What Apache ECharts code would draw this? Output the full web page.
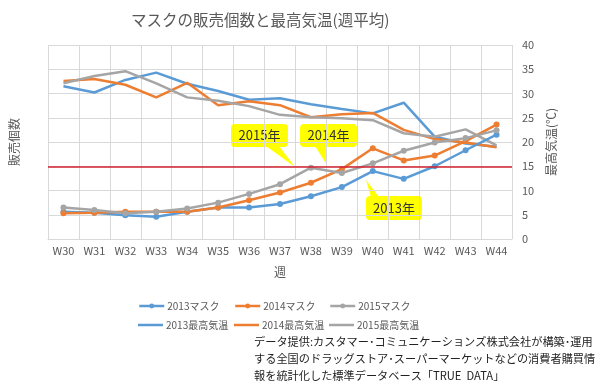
<!DOCTYPE html>
<html><head><meta charset="utf-8">
<script src="https://cdn.jsdelivr.net/npm/echarts@6/dist/echarts.min.js"></script>
<style>html,body{margin:0;padding:0;background:#fff}#c{width:600px;height:392px}</style>
</head><body><div id="c"></div>
<script>
const weeks = ['W30','W31','W32','W33','W34','W35','W36','W37','W38','W39','W40','W41','W42','W43','W44'];
const mask2013 = [5.6,5.4,4.9,4.6,5.6,6.5,6.5,7.2,8.8,10.7,14.0,12.4,15.0,18.3,21.5];
const mask2014 = [5.3,5.4,5.6,5.6,5.6,6.5,8.0,9.6,11.6,14.4,18.7,16.2,17.2,20.2,23.6];
const mask2015 = [6.5,6.0,5.3,5.6,6.3,7.5,9.3,11.3,14.7,13.6,15.6,18.2,19.9,20.8,22.4];
const temp2013 = [31.5,30.2,32.8,34.3,32.0,30.5,28.7,29.0,27.8,26.8,25.9,28.1,21.1,19.7,19.0];
const temp2014 = [32.6,33.0,31.8,29.2,32.2,27.6,28.4,27.6,25.1,25.7,26.0,22.5,20.6,19.9,18.9];
const temp2015 = [32.1,33.6,34.6,32.1,29.2,28.5,27.4,25.6,25.1,24.9,24.5,21.8,21.1,22.6,19.3];
const yTicks = [0,5,10,15,20,25,30,35,40];
const refLine = 15;
const seriesNames = ['2013マスク','2014マスク','2015マスク','2013最高気温','2014最高気温','2015最高気温'];
const callouts = ['2015年','2014年','2013年'];
const titleText = 'マスクの販売個数と最高気温(週平均)';
const sourceText = 'データ提供:カスタマー･コミュニケーションズ株式会社が構築･運用\nする全国のドラッグストア･スーパーマーケットなどの消費者購買情\n報を統計化した標準データベース「TRUE  DATA」';

const blue='#5B9BD5', orange='#ED7D31', gray='#A5A5A5';
const font='"Noto Sans CJK JP", "Noto Sans", sans-serif';
const tc='#595959';

function maskSeries(name,data,color){
  return {name,type:'line',yAxisIndex:0,data,symbol:'circle',symbolSize:6,showSymbol:true,
    itemStyle:{color},lineStyle:{color,width:2.5},z:3};
}
function tempSeries(name,data,color){
  return {name,type:'line',yAxisIndex:1,data,symbol:'none',showSymbol:false,
    itemStyle:{color},lineStyle:{color,width:2.5},z:2};
}
function callout(text, rx, ry, w, h, tail){
  return {type:'group',z:50,children:[
    {type:'polygon',shape:{points:tail},style:{fill:'#FFFF00'}},
    {type:'rect',shape:{x:rx,y:ry,width:w,height:h,r:4},style:{fill:'#FFFF00'}},
    {type:'text',x:rx+w/2,y:ry+h/2,style:{text,fill:'#333',font:'13px '+font,align:'center',verticalAlign:'middle'}}
  ]};
}
const legendItem = (left, top, name, isTemp) => ({
  left, top, itemGap:0, itemWidth:25, itemHeight: isTemp ? 2.5 : 6,
  icon: isTemp ? 'rect' : undefined,
  lineStyle: isTemp ? undefined : {width:2.5},
  data:[name], textStyle:{color:tc,fontSize:10,fontFamily:font,padding:[0,0,0,-2]}
});

const chart = echarts.init(document.getElementById('c'));
const s4 = tempSeries(seriesNames[3],temp2013,blue);
s4.markLine = {silent:true,symbol:'none',label:{show:false},lineStyle:{color:'#D0202E',width:1.5,type:'solid'},data:[{yAxis:refLine}]};
chart.setOption({
  animation:false,
  textStyle:{fontFamily:font},
  title:{text:titleText,left:126,top:7,textStyle:{fontSize:15.5,color:tc,fontWeight:'normal',fontFamily:font}},
  grid:{left:45,right:88,top:45,bottom:153},
  legend:[
    legendItem(133,296,seriesNames[0],false),
    legendItem(229,296,seriesNames[1],false),
    legendItem(324,296,seriesNames[2],false),
    legendItem(133,315,seriesNames[3],true),
    legendItem(229,315,seriesNames[4],true),
    legendItem(324,315,seriesNames[5],true)
  ],
  xAxis:{type:'category',data:weeks,boundaryGap:true,
    name:'週',nameLocation:'middle',nameGap:27,nameTextStyle:{color:tc,fontSize:12,fontFamily:font},
    axisLine:{lineStyle:{color:'#D9D9D9'}},axisTick:{show:false},
    axisLabel:{color:tc,fontSize:11,margin:6},
    splitLine:{show:true,lineStyle:{color:'#D9D9D9'}}},
  yAxis:[
    {type:'value',min:0,max:40,interval:5,position:'left',
      name:'販売個数',nameLocation:'middle',nameGap:28,nameRotate:90,
      nameTextStyle:{color:tc,fontSize:12,fontFamily:font},
      axisLabel:{show:false},axisLine:{show:false},axisTick:{show:false},splitLine:{show:false}},
    {type:'value',min:0,max:40,interval:5,position:'right',
      name:'最高気温(℃)',nameLocation:'middle',nameGap:30,nameRotate:90,
      nameTextStyle:{color:tc,fontSize:12,fontFamily:font},
      axisLabel:{color:tc,fontSize:11,margin:10,formatter:v=>yTicks.includes(v)?String(v):''},
      axisLine:{show:false},axisTick:{show:false},
      splitLine:{show:true,lineStyle:{color:'#D9D9D9'}}}
  ],
  series:[
    s4,
    tempSeries(seriesNames[4],temp2014,orange),
    tempSeries(seriesNames[5],temp2015,gray),
    maskSeries(seriesNames[0],mask2013,blue),
    maskSeries(seriesNames[1],mask2014,orange),
    maskSeries(seriesNames[2],mask2015,gray)
  ],
  graphic:[
    callout(callouts[0],231,124,57,23,[[266,146],[279,146],[295,167]]),
    callout(callouts[1],300,124,57,23,[[315,146],[327,146],[327,165]]),
    callout(callouts[2],366,196,56,24,[[371,197],[379,197],[366,180]]),
    {type:'text',left:254,top:333,style:{text:sourceText,fill:'#222',font:'11.2px '+font,lineHeight:17}}
  ]
});
</script></body></html>
